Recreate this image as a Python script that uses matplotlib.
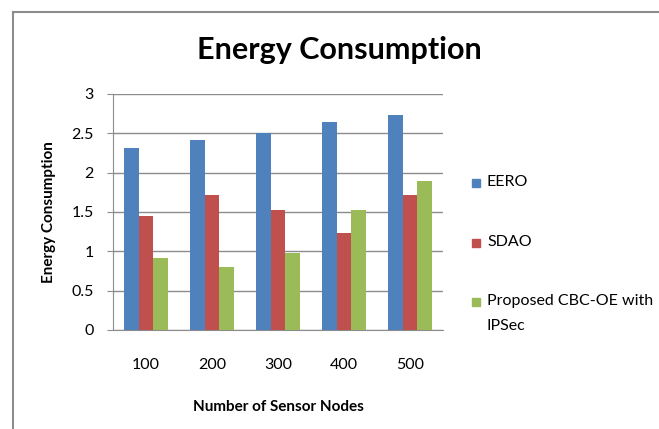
import matplotlib
matplotlib.use("Agg")
import matplotlib.pyplot as plt
import numpy as np
from matplotlib.lines import Line2D
from matplotlib.patches import Rectangle

# chart data
nodes = ["100", "200", "300", "400", "500"]
eero = [2.31, 2.41, 2.51, 2.64, 2.73]
sdao = [1.45, 1.71, 1.53, 1.23, 1.71]
cbc_oe = [0.91, 0.80, 0.98, 1.52, 1.90]
series_names = ["EERO", "SDAO", "Proposed CBC-OE with\nIPSec"]
colors = ["#4F81BD", "#C0504D", "#9BBB59"]

plt.rcParams['font.family'] = ['Lato', 'DejaVu Sans']

W, H = 659, 429
fig = plt.figure(figsize=(W / 100, H / 100), dpi=100)
ax = fig.add_axes([0.1715, 0.2308, 0.5008, 0.5501])

x = np.arange(len(nodes))
w = 1 / 4.5
for i, vals in enumerate([eero, sdao, cbc_oe]):
    ax.bar(x + (i - 1) * w, vals, w, color=colors[i], zorder=3)

ax.set_xlim(-0.5, len(nodes) - 0.5)
ax.set_ylim(0, 3)
ax.set_yticks(np.arange(0, 3.01, 0.5))
ax.set_yticklabels(["0", "0.5", "1", "1.5", "2", "2.5", "3"])
ax.set_xticks(x)
ax.set_xticklabels(nodes)
ax.grid(axis="y", color="#8c8c8c", linewidth=1, zorder=0)
for s in ["top", "right"]:
    ax.spines[s].set_visible(False)
ax.spines["left"].set_color("#8c8c8c")
ax.spines["bottom"].set_color("#8c8c8c")
ax.tick_params(axis="y", length=4, color="#8c8c8c", labelsize=11.5, pad=10)
ax.tick_params(axis="x", length=0, labelsize=11.5, pad=20)

ax.set_xlabel("Number of Sensor Nodes", fontsize=11, fontweight="bold", labelpad=20)
ax.set_ylabel("Energy Consumption", fontsize=11, fontweight="bold", labelpad=11)
fig.text(0.515, 1 - 50 / H, "Energy Consumption", ha="center", va="center",
         fontsize=22, fontweight="bold")

# legend drawn by hand so the wrapped label sits like the original
leg_y = [183, 243, 302]
for name, c, yy in zip(series_names, colors, leg_y):
    fig.add_artist(Rectangle((472 / W, 1 - (yy + 4) / H), 8 / W, 8 / H,
                             transform=fig.transFigure, color=c))
    fig.text(487 / W, 1 - (yy - 8) / H, name, ha="left", va="top",
             fontsize=11.5, linespacing=2.0)

# outer chart border (only left and top visible)
bx = 13 / W
by = 1 - 11.5 / H
fig.add_artist(Line2D([bx, bx], [0, by], color="#8c8c8c", linewidth=1.5))
fig.add_artist(Line2D([bx, 1], [by, by], color="#8c8c8c", linewidth=1.5))

fig.savefig("out.png", dpi=100)
